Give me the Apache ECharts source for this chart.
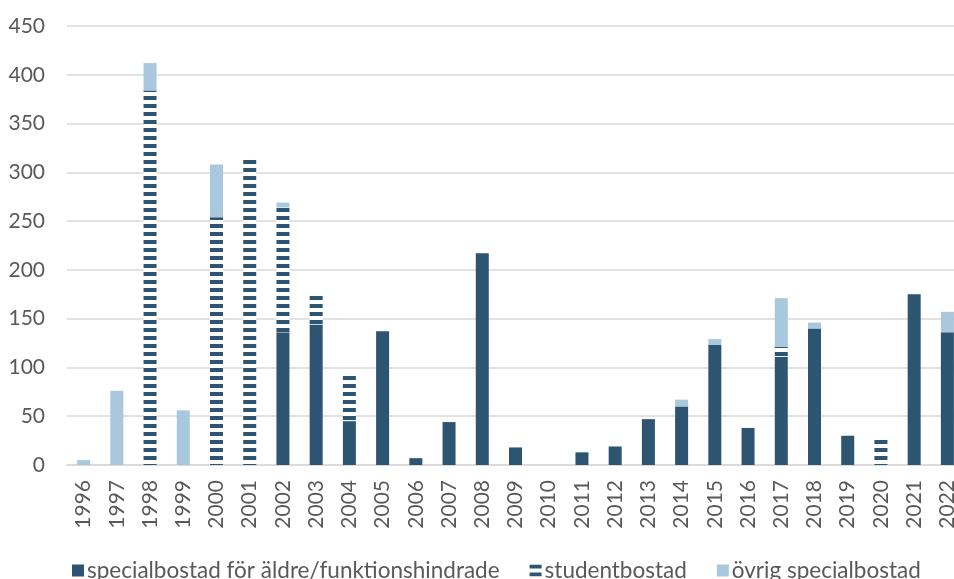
<!DOCTYPE html>
<html>
<head>
<meta charset="utf-8">
<script src="https://cdn.jsdelivr.net/npm/echarts@6/dist/echarts.min.js"></script>
<style>
  html, body { margin: 0; padding: 0; background: #fff; overflow: hidden; }
  /* canvas is a little wider than the window, so the last year is cut at the edge */
  #chart { width: 964px; height: 579px; }
</style>
</head>
<body>
<div id="chart"></div>
<script>
// Färdigställda specialbostäder per år
const years = ['1996','1997','1998','1999','2000','2001','2002','2003','2004','2005','2006','2007','2008','2009','2010','2011','2012','2013','2014','2015','2016','2017','2018','2019','2020','2021','2022'];
const aldreFunk = [0, 0, 0, 0, 0, 0, 136, 144, 45, 137, 7, 44, 217, 18, 0, 13, 19, 47, 60, 123, 38, 111, 140, 30, 0, 175, 136];
const studentbostad = [0, 0, 384, 0, 254, 316, 128, 30, 48, 0, 0, 0, 0, 0, 0, 0, 0, 0, 0, 0, 0, 10, 0, 0, 29, 0, 0];
const ovrigSpecial = [5, 76, 28, 56, 54, 0, 5, 0, 0, 0, 0, 0, 0, 0, 0, 0, 0, 0, 7, 6, 0, 50, 6, 0, 0, 0, 21];
const yTicks = { min: 0, max: 450, interval: 50 };

const DARK = '#2d5571';
const LIGHT = '#a9c8dd';
const TEXT = '#595959';
const FONT = 'Lato';

// horizontal stripe fill for student housing
function stripePattern() {
  const c = document.createElement('canvas');
  c.width = 8; c.height = 8;
  const ctx = c.getContext('2d');
  ctx.fillStyle = '#ffffff';
  ctx.fillRect(0, 0, 8, 8);
  ctx.fillStyle = DARK;
  ctx.fillRect(0, 0, 8, 4);
  return c;
}

const chart = echarts.init(document.getElementById('chart'), null, { renderer: 'canvas' });

chart.setOption({
  animation: false,
  backgroundColor: '#ffffff',
  grid: { left: 67, top: 26, right: 0, bottom: 114, containLabel: false },
  legend: {
    left: 72, top: 559, padding: 0,
    itemWidth: 12, itemHeight: 12, itemGap: 30,
    icon: 'rect',
    textStyle: { color: TEXT, fontSize: 22.5, fontFamily: FONT, padding: [0, 0, 0, -2] },
    data: ['specialbostad för äldre/funktionshindrade', 'studentbostad', 'övrig specialbostad']
  },
  xAxis: {
    type: 'category',
    data: years,
    axisLine: { show: true, lineStyle: { color: '#d9d9d9', width: 1.5 } },
    axisTick: { show: false },
    axisLabel: { rotate: 90, color: TEXT, fontSize: 21, fontFamily: FONT, margin: 15, interval: 0 }
  },
  yAxis: {
    type: 'value',
    min: yTicks.min, max: yTicks.max, interval: yTicks.interval,
    axisLine: { show: false },
    axisTick: { show: false },
    splitLine: { lineStyle: { color: '#d9d9d9', width: 1.5 } },
    axisLabel: { color: TEXT, fontSize: 21, fontFamily: FONT, margin: 22 }
  },
  series: [
    {
      name: 'specialbostad för äldre/funktionshindrade',
      type: 'bar', stack: 'total', barWidth: 13,
      itemStyle: { color: DARK },
      data: aldreFunk
    },
    {
      name: 'studentbostad',
      type: 'bar', stack: 'total', barWidth: 13,
      itemStyle: { color: { image: stripePattern(), repeat: 'repeat' } },
      data: studentbostad
    },
    {
      name: 'övrig specialbostad',
      type: 'bar', stack: 'total', barWidth: 13,
      itemStyle: { color: LIGHT },
      data: ovrigSpecial
    }
  ]
});
</script>
</body>
</html>
